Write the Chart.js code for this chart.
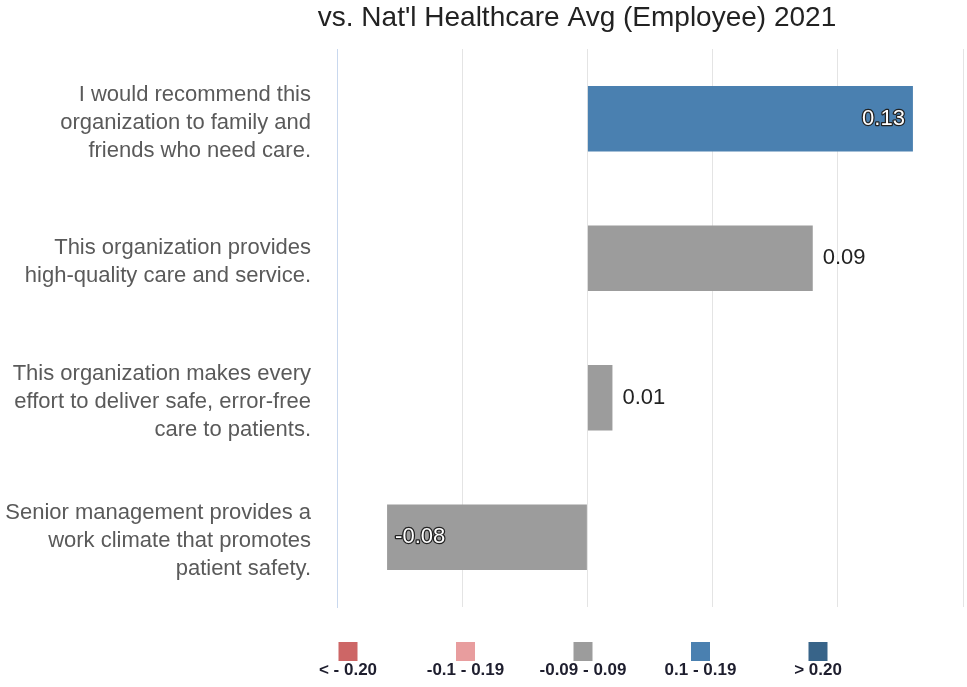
<!DOCTYPE html>
<html>
<head>
<meta charset="utf-8">
<script src="https://cdn.jsdelivr.net/npm/chart.js"></script>
<style>
  html, body { margin: 0; padding: 0; background: #fff; }
  #wrap { width: 967px; height: 687px; position: relative; }
</style>
</head>
<body>
<div id="wrap"><canvas id="chart"></canvas></div>
<script>
// data
const questions = [
  ['I would recommend this', 'organization to family and', 'friends who need care.'],
  ['This organization provides', 'high-quality care and service.'],
  ['This organization makes every', 'effort to deliver safe, error-free', 'care to patients.'],
  ['Senior management provides a', 'work climate that promotes', 'patient safety.']
];
const diffs = [0.13, 0.09, 0.01, -0.08];
const legendLabels = ['< - 0.20', '-0.1 - 0.19', '-0.09 - 0.09', '0.1 - 0.19', '> 0.20'];
const legendColors = ['#cd6666', '#e89d9e', '#9c9c9c', '#4a80b0', '#386489'];

// colour by band
function bandColor(v) {
  if (v <= -0.2) return legendColors[0];
  if (v <= -0.1) return legendColors[1];
  if (v < 0.1) return legendColors[2];
  if (v < 0.2) return legendColors[3];
  return legendColors[4];
}

const maxV = Math.max(...diffs);
const minV = Math.min(...diffs);

// title, value labels, legend
const extras = {
  id: 'extras',
  afterDatasetsDraw(chart) {
    const ctx = chart.ctx;
    const meta = chart.getDatasetMeta(0);
    ctx.save();
    ctx.font = '22px "Liberation Sans", Arial, sans-serif';
    ctx.textBaseline = 'middle';
    meta.data.forEach((bar, i) => {
      const v = diffs[i];
      const txt = v.toFixed(2);
      if (v === maxV || v === minV) {
        // inside, white with dark outline
        let x;
        if (v >= 0) { ctx.textAlign = 'right'; x = bar.x - 8; }
        else { ctx.textAlign = 'left'; x = bar.x + 8; }
        ctx.lineWidth = 2.5;
        ctx.strokeStyle = '#222';
        ctx.lineJoin = 'round';
        ctx.strokeText(txt, x, bar.y);
        ctx.fillStyle = '#fff';
        ctx.fillText(txt, x, bar.y);
      } else {
        ctx.fillStyle = '#222';
        if (v >= 0) { ctx.textAlign = 'left'; ctx.fillText(txt, bar.x + 10, bar.y); }
        else { ctx.textAlign = 'right'; ctx.fillText(txt, bar.x - 10, bar.y); }
      }
    });

    // title
    ctx.fillStyle = '#222';
    ctx.textAlign = 'center';
    ctx.font = '28px "Liberation Sans", Arial, sans-serif';
    ctx.fillText("vs. Nat'l Healthcare Avg (Employee) 2021", 577, 18);

    // legend
    ctx.font = 'bold 17px "Liberation Sans", Arial, sans-serif';
    legendLabels.forEach((lab, i) => {
      const cx = 348 + i * 117.5;
      ctx.fillStyle = legendColors[i];
      ctx.fillRect(cx - 9.5, 642, 19, 19);
      ctx.fillStyle = '#1e1e2e';
      ctx.fillText(lab, cx, 670);
    });
    ctx.restore();
  }
};

new Chart(document.getElementById('chart'), {
  type: 'bar',
  data: {
    labels: questions,
    datasets: [{
      data: diffs,
      backgroundColor: diffs.map(bandColor),
      barPercentage: 0.47,
      categoryPercentage: 1
    }]
  },
  options: {
    indexAxis: 'y',
    responsive: true,
    maintainAspectRatio: false,
    animation: false,
    layout: { padding: { top: 49, right: 4, bottom: 80, left: 0 } },
    plugins: {
      legend: { display: false },
      tooltip: { enabled: false }
    },
    scales: {
      x: {
        min: -0.1,
        max: 0.15,
        ticks: { display: false, stepSize: 0.05 },
        grid: {
          color: (c) => c.index === 0 ? '#c9d8ee' : '#e4e4e4',
          drawTicks: false
        },
        border: { display: false }
      },
      y: {
        afterFit(scale) {
          scale.width = 337;
          scale.paddingTop = 0;
          scale.paddingBottom = 0;
        },
        grid: { display: false },
        border: { color: '#c9d8ee' },
        ticks: {
          padding: 18,
          labelOffset: 4,
          color: '#5a5a5a',
          font: { family: '"Liberation Sans", Arial, sans-serif', size: 22, lineHeight: 1.27 }
        }
      }
    }
  },
  plugins: [extras]
});
</script>
</body>
</html>
